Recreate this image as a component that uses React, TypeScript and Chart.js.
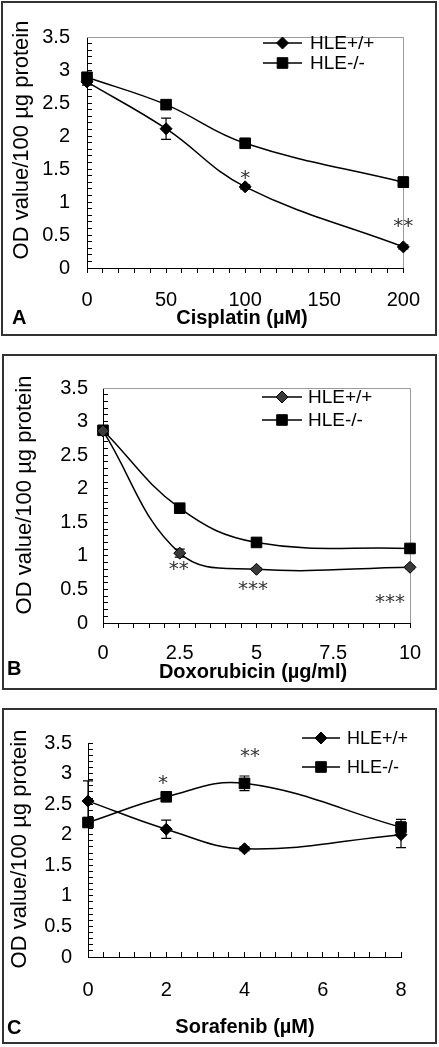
import React, { useEffect, useRef } from 'react';
import { Chart, registerables } from 'chart.js';
Chart.register(...registerables);

const FONT = '"Liberation Sans", Arial, Helvetica, sans-serif';
const STAR_FONT = '"DejaVu Sans", sans-serif';

const seriesNames = ['HLE+/+', 'HLE-/-'];
const yAxisTitle = 'OD value/100 \u00b5g protein';
const yTickSpec = { min: 0, max: 3.5, step: 0.1, labelEvery: 0.5 };

// Panel A – Cisplatin
const cisDoses = [0, 50, 100, 200];
const cisWT = [2.82, 2.11, 1.23, 0.32];
const cisWTErr = [0.05, 0.16, 0.03, 0.03];
const cisKO = [2.89, 2.475, 1.89, 1.3];
const cisKOErr = [0.04, 0.04, 0.04, 0.08];
const cisStars = [{ x: 100, y: 1.45, t: '*' }, { x: 200, y: 0.72, t: '**' }];
const cisXTicks = { min: 0, max: 200, step: 10, labelEvery: 50 };

// Panel B – Doxorubicin
const doxDoses = [0, 2.5, 5, 10];
const doxWT = [2.86, 1.04, 0.8, 0.83];
const doxWTErr = [0.03, 0.06, 0.02, 0.02];
const doxKO = [2.87, 1.71, 1.2, 1.11];
const doxKOErr = [0.03, 0.04, 0.03, 0.03];
const doxStars = [{ x: 2.47, y: 0.89, t: '**' }, { x: 4.89, y: 0.585, t: '***' }, { x: 9.35, y: 0.4, t: '***' }];
const doxXTicks = { min: 0, max: 10, step: 0.5, labelEvery: 2.5 };

// Panel C – Sorafenib
const sorDoses = [0, 2, 4, 8];
const sorWT = [2.55, 2.09, 1.77, 2.0];
const sorWTErr = [0.33, 0.15, 0.03, 0.21];
const sorKO = [2.2, 2.62, 2.84, 2.12];
const sorKOErr = [0.05, 0.06, 0.12, 0.13];
const sorStars = [{ x: 1.92, y: 2.94, t: '*' }, { x: 4.14, y: 3.38, t: '**' }];
const sorXTicks = { min: 0, max: 8, step: 0.4, labelEvery: 2 };

function genTicks(min: number, max: number, step: number) {
  const out: { value: number }[] = [];
  const n = Math.round((max - min) / step);
  for (let i = 0; i <= n; i++) out.push({ value: +(min + i * step).toFixed(6) });
  return out;
}
function isMultiple(v: number, m: number) {
  const r = v / m;
  return Math.abs(r - Math.round(r)) < 1e-6;
}
function fmt(v: number) {
  return String(+v.toFixed(2));
}

const panels = [
  {
    key: 'A', letter: 'A', xTitle: 'Cisplatin (\u00b5M)',
    x: cisDoses, wt: cisWT, wtErr: cisWTErr, ko: cisKO, koErr: cisKOErr, stars: cisStars, xTicks: cisXTicks,
    box: { left: 1, top: 1, w: 436, h: 335 },
    pad: { left: 4, top: 17, right: 17, bottom: 0 },
    yWidth: 80, xHeight: 66, yTickPad: 22, xTickPad: 15, xTickLen: 5, frame: true,
    yTitlePos: [19, 137], xTitlePos: [239, 315], letterPos: [9, 315],
    legend: { lineX: 260, lineLen: 39, textX: 307, rows: [40, 60], size: 19 },
    wtFill: '#000',
  },
  {
    key: 'B', letter: 'B', xTitle: 'Doxorubicin (\u00b5g/ml)',
    x: doxDoses, wt: doxWT, wtErr: doxWTErr, ko: doxKO, koErr: doxKOErr, stars: doxStars, xTicks: doxXTicks,
    box: { left: 2, top: 354, w: 435, h: 336 },
    pad: { left: 0, top: 18, right: 25, bottom: 0 },
    yWidth: 99, xHeight: 65, yTickPad: 20, xTickPad: 13, xTickLen: 5, frame: true,
    yTitlePos: [21, 139], xTitlePos: [249, 316], letterPos: [3, 313],
    legend: { lineX: 258, lineLen: 40, textX: 304, rows: [41, 64], size: 19 },
    wtFill: '#3a3a3a',
  },
  {
    key: 'C', letter: 'C', xTitle: 'Sorafenib (\u00b5M)',
    x: sorDoses, wt: sorWT, wtErr: sorWTErr, ko: sorKO, koErr: sorKOErr, stars: sorStars, xTicks: sorXTicks,
    box: { left: 2, top: 708, w: 435, h: 336 },
    pad: { left: 0, top: 32, right: 34, bottom: 0 },
    yWidth: 84, xHeight: 85, yTickPad: 21, xTickPad: 26, xTickLen: -5, frame: false,
    yTitlePos: [16, 139], xTitlePos: [241, 317], letterPos: [3, 318],
    legend: { lineX: 298, lineLen: 38, textX: 343, rows: [28, 57], size: 18 },
    wtFill: '#000',
  },
];

function drawMarker(ctx: CanvasRenderingContext2D, style: string, x: number, y: number, fill: string) {
  ctx.beginPath();
  if (style === 'rectRot') {
    const r = 6;
    ctx.moveTo(x - r, y); ctx.lineTo(x, y - r); ctx.lineTo(x + r, y); ctx.lineTo(x, y + r); ctx.closePath();
  } else {
    const h = 5.3;
    ctx.rect(x - h, y - h, 2 * h, 2 * h);
  }
  ctx.fillStyle = fill; ctx.fill();
  ctx.strokeStyle = '#000'; ctx.lineWidth = 1; ctx.stroke();
}

function overlayPlugin(p: any) {
  return {
    id: 'overlay' + p.key,
    beforeDatasetsDraw(chart: any) {
      const { ctx, chartArea: a, scales } = chart;
      const xs = scales.x, ys = scales.y;
      ctx.save();
      if (p.frame) {
        ctx.strokeStyle = '#9a9a9a'; ctx.lineWidth = 1;
        ctx.beginPath();
        ctx.moveTo(a.left, Math.round(a.top) + 0.5);
        ctx.lineTo(Math.round(a.right) + 0.5, Math.round(a.top) + 0.5);
        ctx.lineTo(Math.round(a.right) + 0.5, a.bottom);
        ctx.stroke();
      }
      const errs = [p.wtErr, p.koErr];
      chart.data.datasets.forEach((ds: any, di: number) => {
        ds.data.forEach((pt: any, i: number) => {
          const e = errs[di][i];
          if (!e) return;
          const px = xs.getPixelForValue(pt.x);
          const y1 = ys.getPixelForValue(pt.y + e);
          const y2 = ys.getPixelForValue(pt.y - e);
          ctx.strokeStyle = '#000'; ctx.lineWidth = 1.2;
          ctx.beginPath();
          ctx.moveTo(px, y1); ctx.lineTo(px, y2);
          ctx.moveTo(px - 5, y1); ctx.lineTo(px + 5, y1);
          ctx.moveTo(px - 5, y2); ctx.lineTo(px + 5, y2);
          ctx.stroke();
        });
      });
      ctx.restore();
    },
    afterDraw(chart: any) {
      const { ctx, scales } = chart;
      const xs = scales.x, ys = scales.y;
      ctx.save();
      ctx.fillStyle = '#000';
      // y title
      ctx.save();
      ctx.translate(p.yTitlePos[0], p.yTitlePos[1]);
      ctx.rotate(-Math.PI / 2);
      ctx.font = `22px ${FONT}`;
      ctx.textAlign = 'center'; ctx.textBaseline = 'middle';
      ctx.fillText(yAxisTitle, 0, 0);
      ctx.restore();
      // x title
      ctx.font = `bold 20px ${FONT}`;
      ctx.textAlign = 'center'; ctx.textBaseline = 'middle';
      ctx.fillText(p.xTitle, p.xTitlePos[0], p.xTitlePos[1]);
      // panel letter
      ctx.textAlign = 'left';
      ctx.fillText(p.letter, p.letterPos[0], p.letterPos[1]);
      // stars
      ctx.fillStyle = '#333';
      ctx.font = `20px ${STAR_FONT}`;
      ctx.textAlign = 'center'; ctx.textBaseline = 'alphabetic';
      p.stars.forEach((s: any) => {
        ctx.fillText(s.t, xs.getPixelForValue(s.x), ys.getPixelForValue(s.y) + 11.5);
      });
      // legend
      const L = p.legend;
      chart.data.datasets.forEach((ds: any, di: number) => {
        const ry = L.rows[di];
        ctx.strokeStyle = '#000'; ctx.lineWidth = 1.5;
        ctx.beginPath(); ctx.moveTo(L.lineX, ry); ctx.lineTo(L.lineX + L.lineLen, ry); ctx.stroke();
        drawMarker(ctx, ds.pointStyle, L.lineX + L.lineLen / 2, ry, ds.pointBackgroundColor);
        ctx.fillStyle = '#000';
        ctx.font = `${L.size}px ${FONT}`;
        ctx.textAlign = 'left'; ctx.textBaseline = 'middle';
        ctx.fillText(ds.label, L.textX, ry + 1);
      });
      ctx.restore();
    },
  };
}

function buildConfig(p: any): any {
  const mk = (vals: number[]) => p.x.map((xv: number, i: number) => ({ x: xv, y: vals[i] }));
  return {
    type: 'line',
    data: {
      datasets: [
        {
          label: seriesNames[0], data: mk(p.wt), borderColor: '#000', borderWidth: 1.5,
          pointStyle: 'rectRot', pointRadius: 6, pointBackgroundColor: p.wtFill, pointBorderColor: '#000',
          pointBorderWidth: 1, tension: 0.4, clip: false, fill: false,
        },
        {
          label: seriesNames[1], data: mk(p.ko), borderColor: '#000', borderWidth: 1.5,
          pointStyle: 'rect', pointRadius: 7.5, pointBackgroundColor: '#000', pointBorderColor: '#000',
          pointBorderWidth: 1, tension: 0.4, clip: false, fill: false,
        },
      ],
    },
    options: {
      responsive: false,
      animation: false,
      events: [],
      layout: { padding: p.pad, autoPadding: false },
      plugins: { legend: { display: false }, tooltip: { enabled: false } },
      scales: {
        x: {
          type: 'linear', position: 'bottom',
          min: p.xTicks.min, max: p.xTicks.max,
          afterBuildTicks: (s: any) => { s.ticks = genTicks(p.xTicks.min, p.xTicks.max, p.xTicks.step); },
          afterFit: (s: any) => { s.height = p.xHeight; },
          ticks: {
            autoSkip: false, maxRotation: 0, minRotation: 0, padding: p.xTickPad, color: '#000',
            font: { family: FONT, size: 20 },
            callback: (v: number) => (isMultiple(v, p.xTicks.labelEvery) ? fmt(v) : ''),
          },
          grid: { drawOnChartArea: false, drawTicks: true, tickLength: p.xTickLen, color: '#000', lineWidth: 1 },
          border: { color: '#000', width: 1 },
        },
        y: {
          type: 'linear', position: 'left',
          min: yTickSpec.min, max: yTickSpec.max,
          afterBuildTicks: (s: any) => { s.ticks = genTicks(yTickSpec.min, yTickSpec.max, yTickSpec.step); },
          afterFit: (s: any) => { s.width = p.yWidth; },
          ticks: {
            autoSkip: false, padding: p.yTickPad, color: '#000',
            font: { family: FONT, size: 20 },
            callback: (v: number) => (isMultiple(v, yTickSpec.labelEvery) ? fmt(v) : ''),
          },
          grid: { drawOnChartArea: false, drawTicks: true, tickLength: -5, color: '#000', lineWidth: 1 },
          border: { color: '#000', width: 1 },
        },
      },
    },
    plugins: [overlayPlugin(p)],
  };
}

function Panel({ p }: { p: any }) {
  const ref = useRef<HTMLCanvasElement | null>(null);
  useEffect(() => {
    const chart = new Chart(ref.current as HTMLCanvasElement, buildConfig(p));
    return () => chart.destroy();
  }, []);
  return (
    <div
      style={{
        position: 'absolute', left: p.box.left, top: p.box.top, width: p.box.w, height: p.box.h,
        border: '2px solid #333', boxSizing: 'border-box', background: '#fff',
      }}
    >
      <canvas ref={ref} width={p.box.w - 4} height={p.box.h - 4} style={{ display: 'block' }} />
    </div>
  );
}

export default function App() {
  return (
    <div>
      {panels.map((p) => (
        <Panel key={p.key} p={p} />
      ))}
    </div>
  );
}
